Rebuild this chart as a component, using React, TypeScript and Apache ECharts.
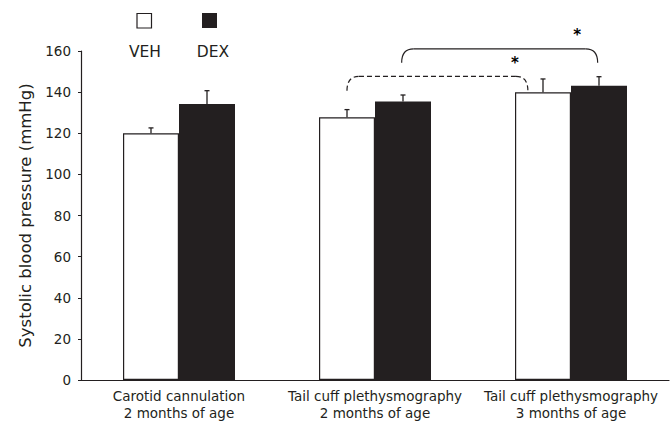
import { useEffect, useRef } from "react";
import * as echarts from "echarts";

const categories = [
  "Carotid cannulation\n2 months of age",
  "Tail cuff plethysmography\n2 months of age",
  "Tail cuff plethysmography\n3 months of age",
];
const seriesNames = ["VEH", "DEX"];
const vehMean = [120.0, 127.8, 139.9];
const vehSem = [2.6, 3.7, 6.5];
const dexMean = [134.2, 135.4, 143.1];
const dexSem = [6.5, 3.2, 4.4];

const yMin = 0;
const yMax = 160;
const yStep = 20;

// significance brackets (in data space: category position, value)
const bracketLeftPos = [0.857, 1.136];
const bracketRightPos = [1.78, 2.136];
const bracketBase = [140.7, 154.3];
const bracketTop = [147.7, 161.0];
const bracketDashed = [1, 0];
const starPos = [1.714, 2.031];
const starValue = [154.2, 167.8];
const starText = ["*", "*"];

const INK = "#231f20";
const FONT = "DejaVu Sans";
const BAR_W = 56;

export default function App() {
  const ref = useRef<HTMLDivElement>(null);
  useEffect(() => {
    if (!ref.current) return;
    const chart = echarts.init(ref.current, undefined, { renderer: "svg" });

    const errData = (means: number[], sems: number[]) =>
      means.map((m, i) => [i, m, sems[i]]);

    const errSeries = (name: string, means: number[], sems: number[], side: number) => ({
      type: "custom",
      name: name + " SEM",
      z: 5,
      silent: true,
      itemStyle: { color: INK },
      encode: { x: 0, y: 1 },
      data: errData(means, sems),
      renderItem: (params: any, api: any) => {
        const c = api.value(0);
        const m = api.value(1);
        const e = api.value(2);
        const pm = api.coord([c, m]);
        const pt = api.coord([c, m + e]);
        const x = pm[0] + (side * BAR_W) / 2;
        const style = { stroke: INK, lineWidth: 1.3, fill: null };
        return {
          type: "group",
          children: [
            { type: "line", shape: { x1: x, y1: pm[1], x2: x, y2: pt[1] }, style },
            { type: "line", shape: { x1: x - 2.5, y1: pt[1], x2: x + 2.5, y2: pt[1] }, style },
          ],
        };
      },
    });

    const bracketData = bracketLeftPos.map((l, i) => [
      l,
      bracketBase[i],
      bracketRightPos[i],
      bracketTop[i],
      bracketDashed[i],
    ]);

    const legendGraphic: any[] = [
      {
        type: "rect",
        shape: { x: 137, y: 13.5, width: 14.5, height: 14.5 },
        style: { fill: "#fff", stroke: INK, lineWidth: 1.2 },
      },
      {
        type: "rect",
        shape: { x: 202, y: 13, width: 15, height: 15 },
        style: { fill: INK },
      },
      {
        type: "text",
        x: 145,
        y: 52,
        style: {
          text: seriesNames[0],
          fill: INK,
          font: `15.5px "${FONT}"`,
          textAlign: "center",
          textVerticalAlign: "middle",
        },
      },
      {
        type: "text",
        x: 213,
        y: 52,
        style: {
          text: seriesNames[1],
          fill: INK,
          font: `15.5px "${FONT}"`,
          textAlign: "center",
          textVerticalAlign: "middle",
        },
      },
    ];

    const option: any = {
      animation: false,
      grid: { left: 81, right: 1, top: 51, bottom: 43, containLabel: false },
      xAxis: {
        type: "category",
        data: categories,
        axisTick: { show: false },
        axisLine: { lineStyle: { color: INK, width: 1.2 } },
        axisLabel: {
          color: INK,
          fontFamily: FONT,
          fontSize: 13.5,
          lineHeight: 16.5,
          margin: 8,
          interval: 0,
        },
      },
      yAxis: {
        type: "value",
        min: yMin,
        max: yMax,
        interval: yStep,
        name: "Systolic blood pressure (mmHg)",
        nameLocation: "middle",
        nameGap: 47,
        nameTextStyle: { color: INK, fontFamily: FONT, fontSize: 16.5 },
        splitLine: { show: false },
        axisLine: { show: true, lineStyle: { color: INK, width: 1.2 } },
        axisTick: { show: true, length: 3, lineStyle: { color: INK } },
        axisLabel: { color: INK, fontFamily: FONT, fontSize: 13.5, margin: 10 },
      },
      graphic: legendGraphic,
      series: [
        {
          type: "bar",
          name: seriesNames[0],
          data: vehMean,
          barWidth: BAR_W,
          barGap: "0%",
          itemStyle: { color: "#ffffff", borderColor: INK, borderWidth: 1.2 },
        },
        {
          type: "bar",
          name: seriesNames[1],
          data: dexMean,
          barWidth: BAR_W,
          barGap: "0%",
          itemStyle: { color: INK },
        },
        errSeries(seriesNames[0], vehMean, vehSem, -1),
        errSeries(seriesNames[1], dexMean, dexSem, 1),
        {
          type: "custom",
          name: "significance",
          z: 6,
          silent: true,
          clip: false,
          itemStyle: { color: INK },
          encode: { x: 0, y: 1 },
          data: bracketData,
          renderItem: (params: any, api: any) => {
            const band = api.size([1, 0])[0];
            const x0 = api.coord([0, 0])[0];
            const xAt = (pos: number) => x0 + pos * band;
            const yAt = (v: number) => api.coord([0, v])[1];
            const dashed = api.value(4) === 1;
            const yb = yAt(api.value(1));
            const yt = yAt(api.value(3));
            const xl = xAt(api.value(0));
            const xr = xAt(api.value(2));
            const r = 12;
            const style: any = {
              stroke: INK,
              lineWidth: 1.2,
              fill: null,
              lineDash: dashed ? [5, 3] : null,
            };
            return {
              type: "group",
              children: [
                {
                  type: "bezierCurve",
                  shape: { x1: xl, y1: yb, cpx1: xl, cpy1: yt, x2: xl + r, y2: yt },
                  style,
                },
                {
                  type: "line",
                  shape: { x1: xl + r, y1: yt, x2: xr - r, y2: yt },
                  style,
                },
                {
                  type: "bezierCurve",
                  shape: { x1: xr - r, y1: yt, cpx1: xr, cpy1: yt, x2: xr, y2: yb },
                  style,
                },
              ],
            };
          },
        },
      ],
    };
    chart.setOption(option);

    // significance stars, placed through the axis scales
    const p0 = chart.convertToPixel({ gridIndex: 0 }, [0, 0]) as number[];
    const p1 = chart.convertToPixel({ gridIndex: 0 }, [1, 0]) as number[];
    const band = p1[0] - p0[0];
    const stars = starPos.map((pos, i) => {
      const py = chart.convertToPixel({ gridIndex: 0 }, [0, starValue[i]]) as number[];
      return {
        type: "text",
        x: p0[0] + pos * band,
        y: py[1],
        z: 10,
        style: {
          text: starText[i],
          fill: "#000000",
          font: `bold 15px "${FONT}"`,
          textAlign: "center",
          textVerticalAlign: "middle",
        },
      };
    });
    chart.setOption({ graphic: [...legendGraphic, ...stars] });

    return () => chart.dispose();
  }, []);
  return <div ref={ref} style={{ width: 670, height: 423, position: "absolute", left: 0, top: 0 }} />;
}
